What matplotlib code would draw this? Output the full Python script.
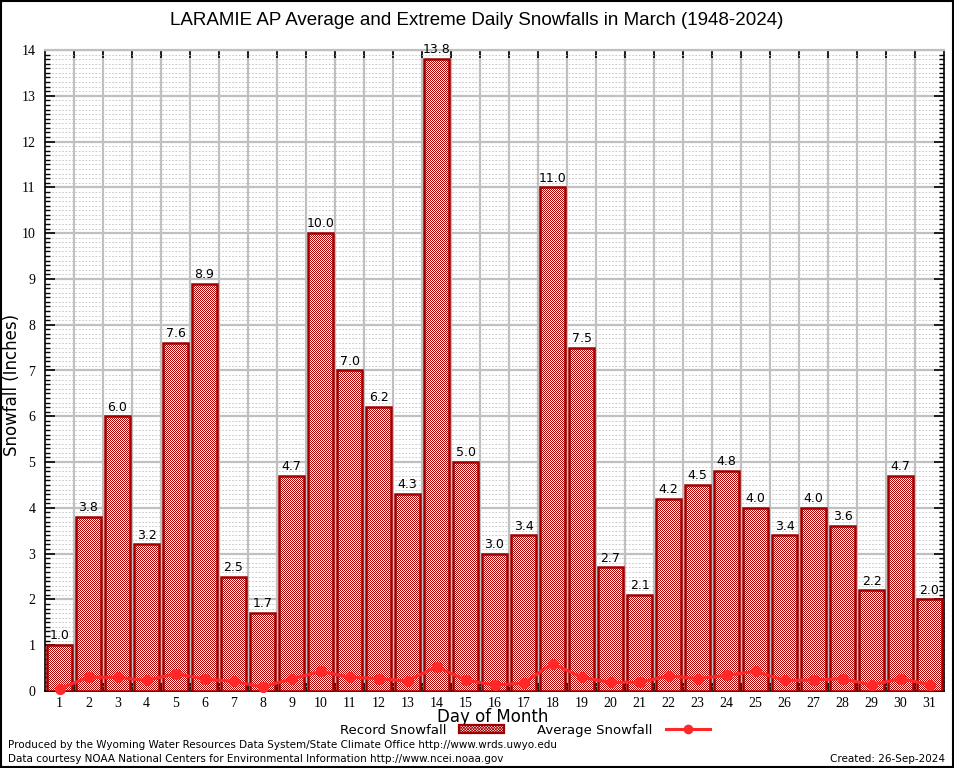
import matplotlib
matplotlib.use("Agg")
import matplotlib.pyplot as plt
import numpy as np
from matplotlib.patches import Patch, Rectangle
from matplotlib.lines import Line2D
from matplotlib.path import Path
from matplotlib.ticker import MultipleLocator, FixedLocator, NullFormatter, FixedFormatter

days = list(range(1, 32))
record = [1.0, 3.8, 6.0, 3.2, 7.6, 8.9, 2.5, 1.7, 4.7, 10.0, 7.0, 6.2, 4.3, 13.8, 5.0,
          3.0, 3.4, 11.0, 7.5, 2.7, 2.1, 4.2, 4.5, 4.8, 4.0, 3.4, 4.0, 3.6, 2.2, 4.7, 2.0]
average = [0.05, 0.30, 0.30, 0.23, 0.38, 0.26, 0.21, 0.09, 0.26, 0.43, 0.30, 0.27, 0.22,
           0.53, 0.24, 0.13, 0.17, 0.60, 0.30, 0.19, 0.19, 0.33, 0.27, 0.34, 0.43, 0.23,
           0.24, 0.27, 0.13, 0.27, 0.14]

title = "LARAMIE AP Average and Extreme Daily Snowfalls in March (1948-2024)"
footer1 = "Produced by the Wyoming Water Resources Data System/State Climate Office http://www.wrds.uwyo.edu"
footer2 = "Data courtesy NOAA National Centers for Environmental Information http://www.ncei.noaa.gov"
created = "Created: 26-Sep-2024"

BAR_EDGE = "#a00000"
CHECK_RGB = (176, 0, 0)
LINE_C = "#ff2828"
GRID_C = "#c0c0c0"

plt.rcParams["hatch.linewidth"] = 0.5

W, H = 954, 768
L, R, T, B = 45, 944, 50, 691
fig = plt.figure(figsize=(W/100 + 1e-4, H/100 + 1e-4), dpi=100)
rect = [L/W, 1-B/H, (R-L)/W, (B-T)/H]

# background axes: grid, ticks, spines
ax = fig.add_axes(rect, zorder=0)
ax.set_xlim(0.5, 31.5)
ax.set_ylim(0, 14)

ax.xaxis.set_major_locator(FixedLocator(np.arange(1.5, 31, 1)))
ax.xaxis.set_major_formatter(NullFormatter())
ax.xaxis.set_minor_locator(FixedLocator(days))
ax.xaxis.set_minor_formatter(FixedFormatter([str(d) for d in days]))
ax.tick_params(axis="x", which="major", direction="in", length=6, width=1.2,
               top=True, bottom=True, color="black")
ax.tick_params(axis="x", which="minor", length=0, pad=4, labelsize=10)
for lab in ax.get_xticklabels(minor=True):
    lab.set_family("Liberation Serif")

ax.yaxis.set_major_locator(MultipleLocator(1))
ax.yaxis.set_minor_locator(MultipleLocator(0.1))
ax.tick_params(axis="y", which="major", direction="in", length=7, width=1.2,
               left=True, right=True, labelsize=10, pad=7)
ax.tick_params(axis="y", which="minor", direction="in", length=3.5, width=1.0,
               left=True, right=True)
for lab in ax.get_yticklabels():
    lab.set_family("Liberation Serif")

ax.grid(True, which="major", axis="both", color=GRID_C, lw=1.6)
ax.grid(True, which="minor", axis="y", color=GRID_C, lw=0.6, ls=(0, (2, 2)))
ax.grid(False, which="minor", axis="x")
ax.set_axisbelow(True)

for s in ["left", "bottom", "right"]:
    ax.spines[s].set_color("black")
    ax.spines[s].set_linewidth(1.2)
ax.spines["top"].set_color(GRID_C)
ax.spines["top"].set_linewidth(1.6)

# foreground axes: bar outlines, average line, value labels
fx = fig.add_axes(rect, zorder=2, sharex=ax, sharey=ax)
fx.patch.set_visible(False)
fx.axis("off")

bars = fx.bar(days, record, width=0.85, fill=False, edgecolor=BAR_EDGE, linewidth=1.8, zorder=4)
for d, v in zip(days, record):
    fx.annotate(f"{v:.1f}", (d, v), xytext=(0, 2), textcoords="offset points",
                ha="center", va="bottom", fontsize=9, family="DejaVu Sans", zorder=6)
fx.plot(days, average, color=LINE_C, lw=2.2, marker="o", ms=7, zorder=7, clip_on=False)

# pixel-exact checkered fill, clipped to the bar shapes
paths = [p.get_path().transformed(p.get_patch_transform()) for p in bars.patches]
clip = Path.make_compound_path(*paths)
ny, nx = B - T, R - L
par = np.indices((ny, nx)).sum(0) % 2
rgba = np.full((ny, nx, 4), 255, dtype=np.uint8)
rgba[par == 1, 0] = CHECK_RGB[0]
rgba[par == 1, 1] = CHECK_RGB[1]
rgba[par == 1, 2] = CHECK_RGB[2]
fi = fig.figimage(rgba, xo=L, yo=H - B, origin="lower", zorder=1)
fi.set_clip_path(clip, ax.transData)

fig.text(493/W, 1-717/H, "Day of Month", ha="center", va="center", fontsize=12,
         family="DejaVu Sans")
fig.text(12/W, 1-385/H, "Snowfall (Inches)", ha="center", va="center", fontsize=12,
         family="DejaVu Sans", rotation=90)

fig.text(0.5, 1-20/H, title, ha="center", va="center", fontsize=13.5,
         family="Liberation Sans")

handles = [Patch(facecolor="white", edgecolor=BAR_EDGE, hatch="xxxxxxxxxxxx", linewidth=1.6),
           Line2D([0], [0], color=LINE_C, lw=2.2, marker="o", ms=6)]
fig.legend(handles, ["Record Snowfall", "Average Snowfall"], ncol=2, markerfirst=False,
           frameon=False, loc="center", bbox_to_anchor=(525/W, 1-730/H),
           prop={"family": "DejaVu Sans", "size": 9.5}, handlelength=3.4,
           handleheight=0.5, columnspacing=2.5, handletextpad=1.0)

fig.text(8/W, 1-745/H, footer1, fontsize=7.5, family="DejaVu Sans", va="center")
fig.text(8/W, 1-759/H, footer2, fontsize=7.5, family="DejaVu Sans", va="center")
fig.text(945/W, 1-759/H, created, fontsize=7.5, family="DejaVu Sans", va="center",
         ha="right")

fig.patches.append(Rectangle((0.001, 0.001), 0.998, 0.998, transform=fig.transFigure,
                             fill=False, edgecolor="black", lw=1.5))

fig.savefig("out.png", dpi=100)
